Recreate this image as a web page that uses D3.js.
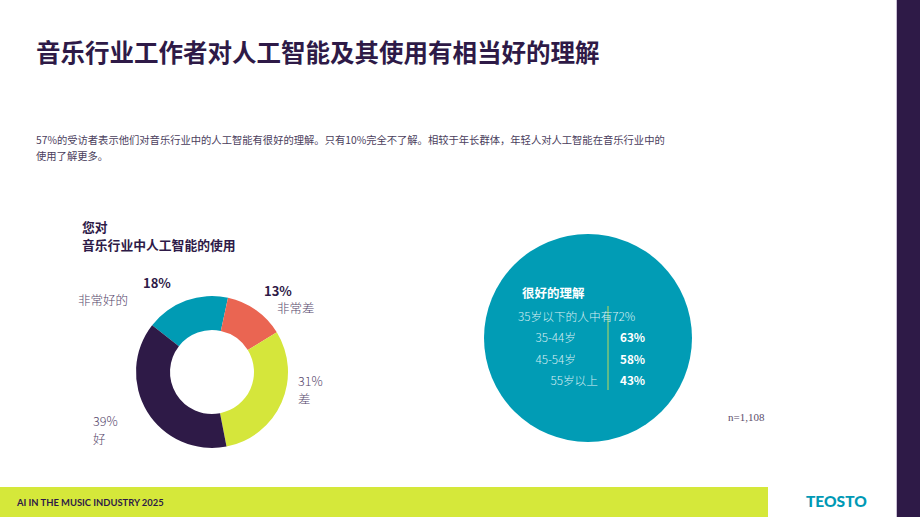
<!DOCTYPE html>
<html>
<head>
<meta charset="utf-8">
<script src="https://cdn.jsdelivr.net/npm/d3@7"></script>
<style>
  body { margin: 0; background: #fff; }
  svg { display: block; font-family: "Noto Sans CJK SC", "Noto Sans", sans-serif; }
</style>
</head>
<body>
<svg id="chart" width="920" height="518"></svg>
<script>
'use strict';

// 数据
var donutLabels = ['非常好的', '非常差', '差', '好'];
var donutValues = [18, 13, 31, 39];
var donutColors = ['#009bb4', '#ea6552', '#d5e63b', '#2e1a47'];

var ageGroups = ['35岁以下的人中有', '35-44岁', '45-54岁', '55岁以上'];
var ageValues = [72, 63, 58, 43];

var dark = '#2e1a47';
var svg = d3.select('#chart');

// 右侧竖条和页脚
svg.append('rect').attr('x', 896).attr('y', 0).attr('width', 1).attr('height', 517).attr('fill', '#c9bfd3');
svg.append('rect').attr('x', 897).attr('y', 0).attr('width', 23).attr('height', 517).attr('fill', dark);
svg.append('rect').attr('x', 0).attr('y', 487).attr('width', 768).attr('height', 30).attr('fill', '#d5e83a');
svg.append('text').attr('x', 17).attr('y', 506).attr('font-size', 9.4).attr('font-weight', 700)
    .attr('font-family', 'Lato, sans-serif').attr('fill', dark).text('AI IN THE MUSIC INDUSTRY 2025');
svg.append('text').attr('x', 806).attr('y', 507).attr('font-size', 15.5).attr('font-weight', 900)
    .attr('font-family', 'Lato, sans-serif').attr('fill', '#0099b5').text('TEOSTO');

// 标题
svg.append('text').attr('x', 36).attr('y', 62).attr('font-size', 24.5).attr('font-weight', 700)
    .attr('fill', dark).text('音乐行业工作者对人工智能及其使用有相当好的理解');

var sub = svg.append('text').attr('font-size', 10.3).attr('fill', '#4a3d5c');
sub.append('tspan').attr('x', 36).attr('y', 144)
    .text('57%的受访者表示他们对音乐行业中的人工智能有很好的理解。只有10%完全不了解。相较于年长群体，年轻人对人工智能在音乐行业中的');
sub.append('tspan').attr('x', 36).attr('y', 160).text('使用了解更多。');

// 环形图
var donutTitle = svg.append('text').attr('font-size', 12.8).attr('font-weight', 700).attr('fill', dark);
donutTitle.append('tspan').attr('x', 82).attr('y', 232).text('您对');
donutTitle.append('tspan').attr('x', 82).attr('y', 250).text('音乐行业中人工智能的使用');

var cx = 212, cy = 372;
var pie = d3.pie().sort(null)
    .startAngle(-52 * Math.PI / 180)
    .endAngle((360 - 52) * Math.PI / 180);
var arc = d3.arc().innerRadius(42).outerRadius(76);

var g = svg.append('g').attr('transform', 'translate(' + cx + ',' + cy + ')');
g.selectAll('path').data(pie(donutValues)).enter().append('path')
    .attr('d', arc)
    .attr('fill', function (d, i) { return donutColors[i]; });

// 标签 (非常好的, 非常差, 差, 好)
var labelPos = [
    { x: 143, y: 288, bold: true, lx: 78, ly: 305 },
    { x: 264, y: 296, bold: true, lx: 277, ly: 313 },
    { x: 298, y: 386, bold: false, lx: 298, ly: 404 },
    { x: 93, y: 426, bold: false, lx: 93, ly: 444 }
];
donutValues.forEach(function (v, i) {
    var p = labelPos[i];
    svg.append('text').attr('x', p.x).attr('y', p.y)
        .attr('font-size', p.bold ? 13 : 12.5)
        .attr('font-weight', p.bold ? 700 : 300)
        .attr('fill', p.bold ? dark : '#54466a')
        .text(v + '%');
    svg.append('text').attr('x', p.lx).attr('y', p.ly)
        .attr('font-size', 12.5).attr('font-weight', 300)
        .attr('fill', '#54466a')
        .text(donutLabels[i]);
});

// 大圆
var bx = 588, by = 338, br = 104;
svg.append('circle').attr('cx', bx).attr('cy', by).attr('r', br).attr('fill', '#019cb5');

svg.append('text').attr('x', 522).attr('y', 298).attr('font-size', 12.5).attr('font-weight', 700)
    .attr('fill', '#fff').text('很好的理解');

var rowY = d3.scaleBand().domain(ageGroups).range([306, 391]).paddingInner(0);

svg.append('line').attr('x1', 608).attr('x2', 608).attr('y1', 306).attr('y2', 390)
    .attr('stroke', '#9fd06a').attr('stroke-width', 1.2);

ageGroups.forEach(function (a, i) {
    var y = rowY(a) + rowY.bandwidth() / 2 + 4.5;
    if (i === 0) {
        svg.append('text').attr('x', 518).attr('y', y).attr('font-size', 11.7).attr('font-weight', 300)
            .attr('fill', '#d7eef3').text(a + ageValues[i] + '%');
    } else {
        svg.append('text').attr('x', i === 3 ? 598 : 576).attr('y', y).attr('text-anchor', 'end')
            .attr('font-size', 11.7).attr('font-weight', 300)
            .attr('fill', '#d7eef3').text(a);
        svg.append('text').attr('x', 620).attr('y', y).attr('font-size', 11.7).attr('font-weight', 700)
            .attr('fill', '#fff').text(ageValues[i] + '%');
    }
});

svg.append('text').attr('x', 728).attr('y', 421).attr('font-size', 11)
    .attr('font-family', '"Liberation Serif", serif').attr('fill', '#5b4d6b').text('n=1,108');
</script>
</body>
</html>
